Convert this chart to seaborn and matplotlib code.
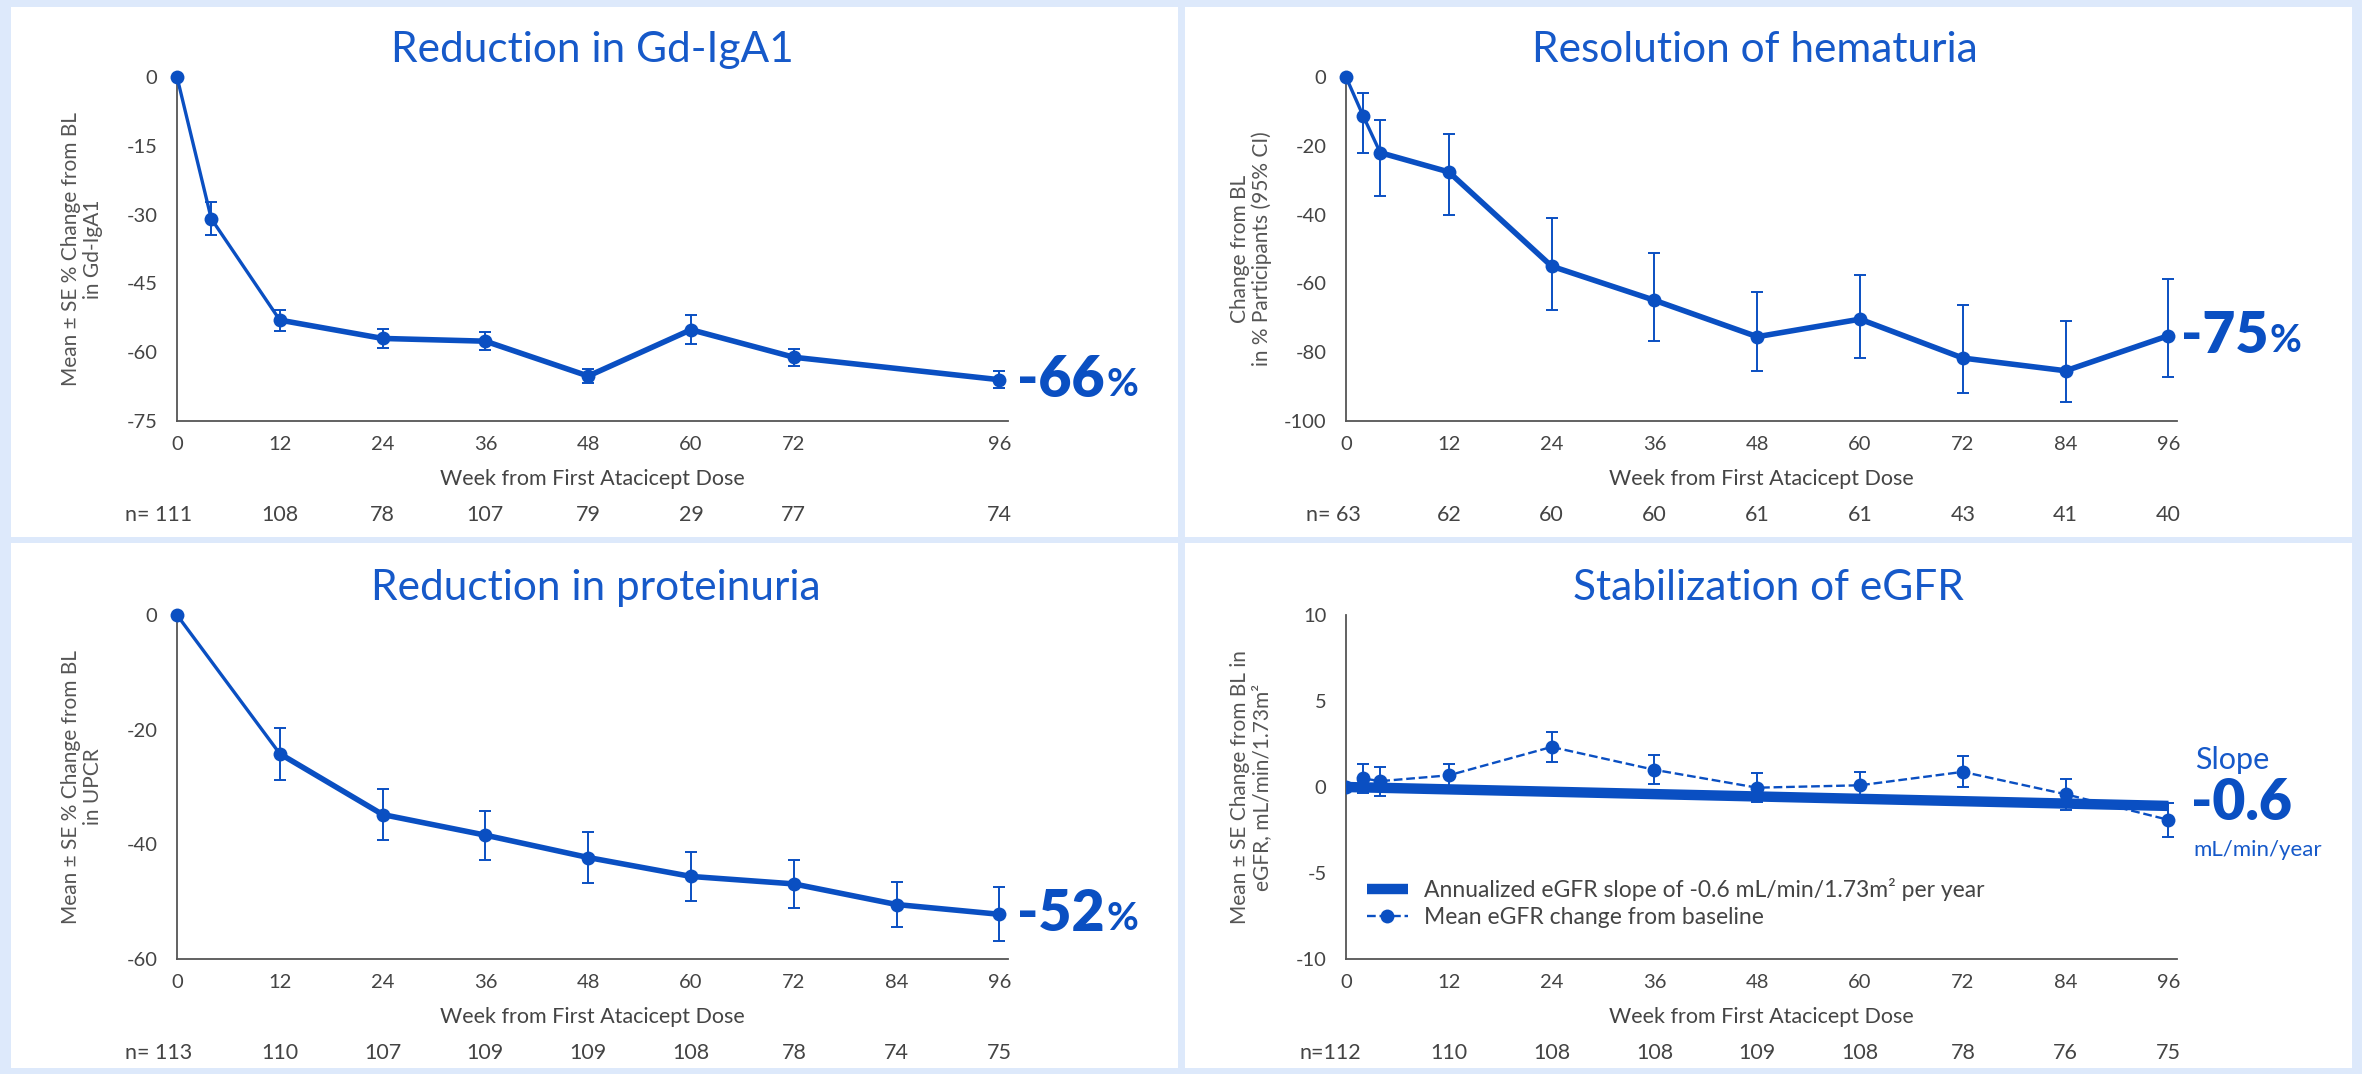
import matplotlib
matplotlib.use('Agg')
import matplotlib.pyplot as plt
from matplotlib.patches import Rectangle
import seaborn as sns

# ---- data ----
# Gd-IgA1 (mean +/- SE % change)
iga_weeks = [0, 4, 12, 24, 36, 48, 60, 72, 96]
iga_mean = [0, -30.9, -53.0, -57.0, -57.6, -65.2, -55.1, -61.1, -66.0]
iga_se = [0, 3.6, 2.3, 2.1, 1.9, 1.6, 3.2, 1.9, 1.8]
iga_n_weeks = [0, 12, 24, 36, 48, 60, 72, 96]
iga_n = [111, 108, 78, 107, 79, 29, 77, 74]

# hematuria (% participants, 95% CI)
hem_weeks = [0, 2, 4, 12, 24, 36, 48, 60, 72, 84, 96]
hem_mean = [0, -11.3, -22.0, -27.6, -55.0, -64.9, -75.5, -70.4, -81.7, -85.4, -75.2]
hem_ci_hi = [0, -4.7, -12.6, -16.5, -41.1, -51.3, -62.6, -57.5, -66.4, -70.8, -58.6]
hem_ci_lo = [0, -22.1, -34.6, -40.1, -67.6, -76.7, -85.5, -81.7, -91.8, -94.5, -87.2]
hem_n_weeks = [0, 12, 24, 36, 48, 60, 72, 84, 96]
hem_n = [63, 62, 60, 60, 61, 61, 43, 41, 40]

# proteinuria (UPCR)
upcr_weeks = [0, 12, 24, 36, 48, 60, 72, 84, 96]
upcr_mean = [0, -24.2, -34.8, -38.4, -42.3, -45.6, -46.9, -50.5, -52.2]
upcr_se = [0, 4.5, 4.5, 4.3, 4.4, 4.2, 4.2, 4.0, 4.7]
upcr_n = [113, 110, 107, 109, 109, 108, 78, 74, 75]

# eGFR
egfr_weeks = [0, 2, 4, 12, 24, 36, 48, 60, 72, 84, 96]
egfr_mean = [0, 0.5, 0.34, 0.68, 2.33, 1.0, -0.04, 0.1, 0.88, -0.42, -1.91]
egfr_se = [0, 0.85, 0.85, 0.65, 0.85, 0.85, 0.85, 0.75, 0.9, 0.9, 1.0]
egfr_n_weeks = [0, 12, 24, 36, 48, 60, 72, 84, 96]
egfr_n = [112, 110, 108, 108, 109, 108, 78, 76, 75]
slope_weeks = [0, 96]
slope_vals = [0, -1.1]
slope_label = '-0.6'

BLUE = '#0a4fc2'
TITLE_BLUE = '#1659c9'
GREY = '#444444'
BG = '#dde9fb'

W, H = 2362, 1074
TXT = 15.5
BIG = 41

sns.set_style('white')
plt.rcParams['font.family'] = ['Lato', 'DejaVu Sans']
plt.rcParams['axes.unicode_minus'] = False

fig = plt.figure(figsize=(W / 100, H / 100), dpi=100, facecolor=BG)

# white panels
for x0, y0, x1, y1 in [(11, 7, 1178, 537), (1185, 7, 2352, 537),
                       (11, 543, 1178, 1068), (1185, 543, 2352, 1068)]:
    fig.add_artist(Rectangle((x0 / W, 1 - y1 / H), (x1 - x0) / W, (y1 - y0) / H,
                             transform=fig.transFigure, facecolor='white',
                             edgecolor='none', zorder=0))


def make_ax(left, top):
    width, height = 831, 344
    return fig.add_axes([left / W, 1 - (top + height) / H, width / W, height / H])


def style_ax(ax, yticks, xticks):
    ax.set_xlim(0, 97)
    ax.set_ylim(yticks[0], yticks[-1])
    ax.set_yticks(yticks)
    ax.set_xticks(xticks)
    for s in ['top', 'right']:
        ax.spines[s].set_visible(False)
    for s in ['left', 'bottom']:
        ax.spines[s].set_color('#555555')
        ax.spines[s].set_linewidth(1.3)
    ax.tick_params(axis='both', length=5, width=1.2, color='#555555',
                   labelsize=14.5, labelcolor=GREY)
    ax.tick_params(axis='x', pad=6)
    ax.tick_params(axis='y', pad=9)
    ax.set_facecolor('none')
    ax.annotate('Week from First Atacicept Dose', xy=(0.5, 0), xycoords='axes fraction',
                xytext=(0, -42), textcoords='offset points', ha='center', va='center',
                fontsize=TXT, color=GREY)


def n_row(ax, weeks, ns, prefix='n= '):
    for i, (w, n) in enumerate(zip(weeks, ns)):
        if i == 0:
            ax.annotate(f'{prefix}{n}', xy=(w, 0), xycoords=('data', 'axes fraction'),
                        xytext=(11, -68), textcoords='offset points', ha='right',
                        va='center', fontsize=TXT, color=GREY, annotation_clip=False)
        else:
            ax.annotate(str(n), xy=(w, 0), xycoords=('data', 'axes fraction'),
                        xytext=(0, -68), textcoords='offset points', ha='center',
                        va='center', fontsize=TXT, color=GREY, annotation_clip=False)


def ylab(ax, text):
    ax.text(-0.114, 0.5, text, transform=ax.transAxes, rotation=90, ha='center',
            va='center', fontsize=15, color='#555555', linespacing=1.1)


def series(ax, weeks, mean, lo, hi, thin_to):
    err_lo = [m - l for m, l in zip(mean, lo)]
    err_hi = [h - m for m, h in zip(mean, hi)]
    ax.errorbar(weeks[1:], mean[1:], yerr=[err_lo[1:], err_hi[1:]], fmt='none',
                ecolor=BLUE, elinewidth=1.4, capsize=4.5, capthick=1.4, zorder=2,
                clip_on=False)
    sns.lineplot(x=weeks[:thin_to + 1], y=mean[:thin_to + 1], ax=ax, color=BLUE,
                 lw=2.4, errorbar=None, zorder=3, clip_on=False)
    sns.lineplot(x=weeks[thin_to:], y=mean[thin_to:], ax=ax, color=BLUE,
                 lw=4.0, errorbar=None, zorder=3, clip_on=False)
    sns.scatterplot(x=weeks, y=mean, ax=ax, color=BLUE, s=100, linewidth=0,
                    zorder=4, clip_on=False)


def big_value(ax, x, y, dx):
    t = ax.annotate(f'{y:.0f}', xy=(x, y), xytext=(dx, 0), textcoords='offset points',
                    ha='left', va='center', fontsize=BIG, fontweight='heavy',
                    color=BLUE, annotation_clip=False)
    ax.annotate('%', xy=(1, 0), xycoords=t, xytext=(1, 3), textcoords='offset points',
                ha='left', va='bottom', fontsize=28, fontweight='bold', color=BLUE)


def title(x, y, text):
    fig.text(x / W, 1 - y / H, text, ha='center', va='center', fontsize=30.5,
             color=TITLE_BLUE)


# ---- panel 1: Gd-IgA1 ----
ax1 = make_ax(177, 77)
style_ax(ax1, [-75, -60, -45, -30, -15, 0], iga_n_weeks)
series(ax1, iga_weeks, iga_mean,
       [m - s for m, s in zip(iga_mean, iga_se)],
       [m + s for m, s in zip(iga_mean, iga_se)], 2)
ylab(ax1, 'Mean ± SE % Change from BL\nin Gd-IgA1')
n_row(ax1, iga_n_weeks, iga_n)
big_value(ax1, iga_weeks[-1], iga_mean[-1], 13)
title(592, 50, 'Reduction in Gd-IgA1')

# ---- panel 2: hematuria ----
ax2 = make_ax(1346, 77)
style_ax(ax2, [-100, -80, -60, -40, -20, 0], hem_n_weeks)
series(ax2, hem_weeks, hem_mean, hem_ci_lo, hem_ci_hi, 2)
ylab(ax2, 'Change from BL\nin % Participants (95% CI)')
n_row(ax2, hem_n_weeks, hem_n)
big_value(ax2, hem_weeks[-1], hem_mean[-1], 9)
title(1755, 50, 'Resolution of hematuria')

# ---- panel 3: proteinuria ----
ax3 = make_ax(177, 615)
style_ax(ax3, [-60, -40, -20, 0], upcr_weeks)
series(ax3, upcr_weeks, upcr_mean,
       [m - s for m, s in zip(upcr_mean, upcr_se)],
       [m + s for m, s in zip(upcr_mean, upcr_se)], 1)
ylab(ax3, 'Mean ± SE % Change from BL\nin UPCR')
n_row(ax3, upcr_weeks, upcr_n)
big_value(ax3, upcr_weeks[-1], upcr_mean[-1], 13)
title(596, 588, 'Reduction in proteinuria')

# ---- panel 4: eGFR ----
ax4 = make_ax(1346, 615)
style_ax(ax4, [-10, -5, 0, 5, 10], egfr_n_weeks)
ax4.errorbar(egfr_weeks[1:], egfr_mean[1:], yerr=egfr_se[1:], fmt='none', ecolor=BLUE,
             elinewidth=1.4, capsize=4.5, capthick=1.4, zorder=2)
sns.lineplot(x=slope_weeks, y=slope_vals, ax=ax4, color=BLUE, lw=7.5, errorbar=None,
             zorder=3, solid_capstyle='butt',
             label='Annualized eGFR slope of -0.6 mL/min/1.73m² per year')
sns.lineplot(x=egfr_weeks, y=egfr_mean, ax=ax4, color=BLUE, lw=1.7, linestyle='--',
             dashes=(3, 2), marker='o', markersize=10, markeredgewidth=0,
             errorbar=None, zorder=4, label='Mean eGFR change from baseline')
ax4.legend(loc='lower left', bbox_to_anchor=(0.0, 0.03), frameon=False, fontsize=16.5,
           labelcolor=GREY, handlelength=1.8, handletextpad=0.7, labelspacing=0.25)
ylab(ax4, 'Mean ± SE Change from BL in\neGFR, mL/min/1.73m²')
n_row(ax4, egfr_n_weeks, egfr_n, prefix='n=')
title(1768, 588, 'Stabilization of eGFR')

sx, sy = slope_weeks[-1], slope_vals[-1]
ax4.annotate('Slope', xy=(sx, sy), xytext=(19, 33), textcoords='offset points',
             ha='left', va='center', fontsize=22, color=TITLE_BLUE, annotation_clip=False)
ax4.annotate(slope_label, xy=(sx, sy), xytext=(16, 2), textcoords='offset points',
             ha='left', va='center', fontsize=BIG, fontweight='heavy', color=BLUE,
             annotation_clip=False)
ax4.annotate('mL/min/year', xy=(sx, sy), xytext=(18, -32), textcoords='offset points',
             ha='left', va='center', fontsize=16, color=TITLE_BLUE, annotation_clip=False)

fig.savefig('out.png', dpi=100, facecolor=BG)
